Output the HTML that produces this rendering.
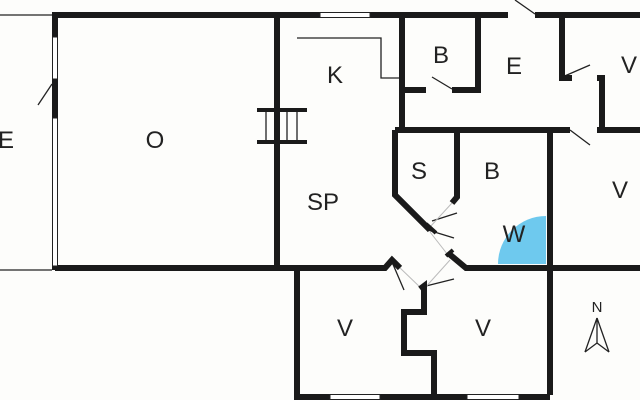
<!DOCTYPE html>
<html><head><style>
html,body{margin:0;padding:0;background:#fdfdfb;}
svg{display:block}
text{font-family:"Liberation Sans",sans-serif;font-size:24px;fill:#222;text-anchor:middle}
</style></head><body>
<svg width="640" height="400" viewBox="0 0 640 400">
<rect width="640" height="400" fill="#fdfdfb"/>
<path d="M546,264 L546,216 A48,48 0 0 0 498,264 Z" fill="#6ec9ee"/>
<g stroke="#222" fill="none" stroke-width="1.3">
<line x1="0" y1="15" x2="52" y2="15"/>
<line x1="0" y1="270" x2="52" y2="270"/>
<polyline points="297,38 381,38 381,78 401,78"/>
<line x1="38" y1="105" x2="52" y2="84"/>
<line x1="432" y1="77" x2="452" y2="89"/>
<line x1="560" y1="78" x2="590" y2="65"/>
<line x1="570" y1="130" x2="590" y2="145"/>
<line x1="515" y1="0" x2="535" y2="14"/>
<line x1="266" y1="110" x2="266" y2="142"/>
<line x1="276" y1="110" x2="276" y2="142"/>
<line x1="287" y1="110" x2="287" y2="142"/>
<line x1="297" y1="110" x2="297" y2="142"/>
<line x1="432" y1="221" x2="457" y2="213"/>
<line x1="428" y1="230" x2="454" y2="238"/>
<line x1="392" y1="262" x2="404" y2="290"/>
<line x1="426" y1="286" x2="454" y2="279"/>
<line x1="597" y1="318" x2="585" y2="352"/><line x1="597" y1="318" x2="609" y2="352"/>
<line x1="585" y1="352" x2="597" y2="343"/><line x1="609" y1="352" x2="597" y2="343"/>
<line x1="597" y1="318" x2="597" y2="343"/>
</g>
<g stroke="#bbb" stroke-width="1" fill="none">
<line x1="452" y1="203" x2="430" y2="227"/>
<line x1="430" y1="232" x2="448" y2="255"/>
<line x1="398" y1="266" x2="423" y2="290"/>
<line x1="423" y1="290" x2="450" y2="260"/>
</g>
<g stroke="#1a1a1a" stroke-width="6" fill="none" stroke-linejoin="miter">
<polyline points="55,270 55,15 508,15"/>
<line x1="535" y1="15" x2="640" y2="15"/>
<line x1="55" y1="268" x2="300" y2="268"/>
<line x1="277" y1="15" x2="277" y2="268"/>
<line x1="402" y1="15" x2="402" y2="130"/>
<line x1="402" y1="90" x2="426" y2="90"/>
<polyline points="452,90 478,90 478,15"/>
<polyline points="562,15 562,78 572,78"/>
<polyline points="597,78 602,78 602,130"/>
<line x1="395" y1="130" x2="570" y2="130"/>
<line x1="597" y1="130" x2="640" y2="130"/>
<polyline points="395,130 395,195 430,230"/>
<polyline points="457,130 457,197 452,203"/>
<line x1="550" y1="130" x2="550" y2="395"/>
<polyline points="448,253 466,268 640,268"/>
<polyline points="297,268 385,268 392,260 400,268"/>
<polyline points="297,268 297,397 550,397"/>
<polyline points="420,289 424,286 424,312 404,312 404,353 434,353 434,397"/>
</g>
<g stroke="#1a1a1a" stroke-width="4" fill="none">
<line x1="257" y1="110" x2="307" y2="110"/>
<line x1="257" y1="142" x2="307" y2="142"/>
<line x1="426" y1="224" x2="436" y2="233"/>
<line x1="446" y1="256" x2="453" y2="250"/>
</g>
<g fill="#fff" stroke="#222" stroke-width="1">
<rect x="52.5" y="37" width="5" height="42"/>
<rect x="52.5" y="118" width="5" height="148"/>
<rect x="320" y="12.5" width="50" height="5"/>
<rect x="330" y="394.5" width="50" height="5"/>
<rect x="467" y="394.5" width="52" height="5"/>
</g>
<text x="6" y="148">E</text>
<text x="155" y="148">O</text>
<text x="335" y="83">K</text>
<text x="323" y="210">SP</text>
<text x="441" y="63">B</text>
<text x="514" y="74">E</text>
<text x="629" y="73">V</text>
<text x="419" y="179">S</text>
<text x="492" y="179">B</text>
<text x="620" y="198">V</text>
<text x="514" y="242">W</text>
<text x="345" y="336">V</text>
<text x="483" y="336">V</text>
<text x="597" y="312" style="font-size:15px">N</text>
</svg>
</body></html>
